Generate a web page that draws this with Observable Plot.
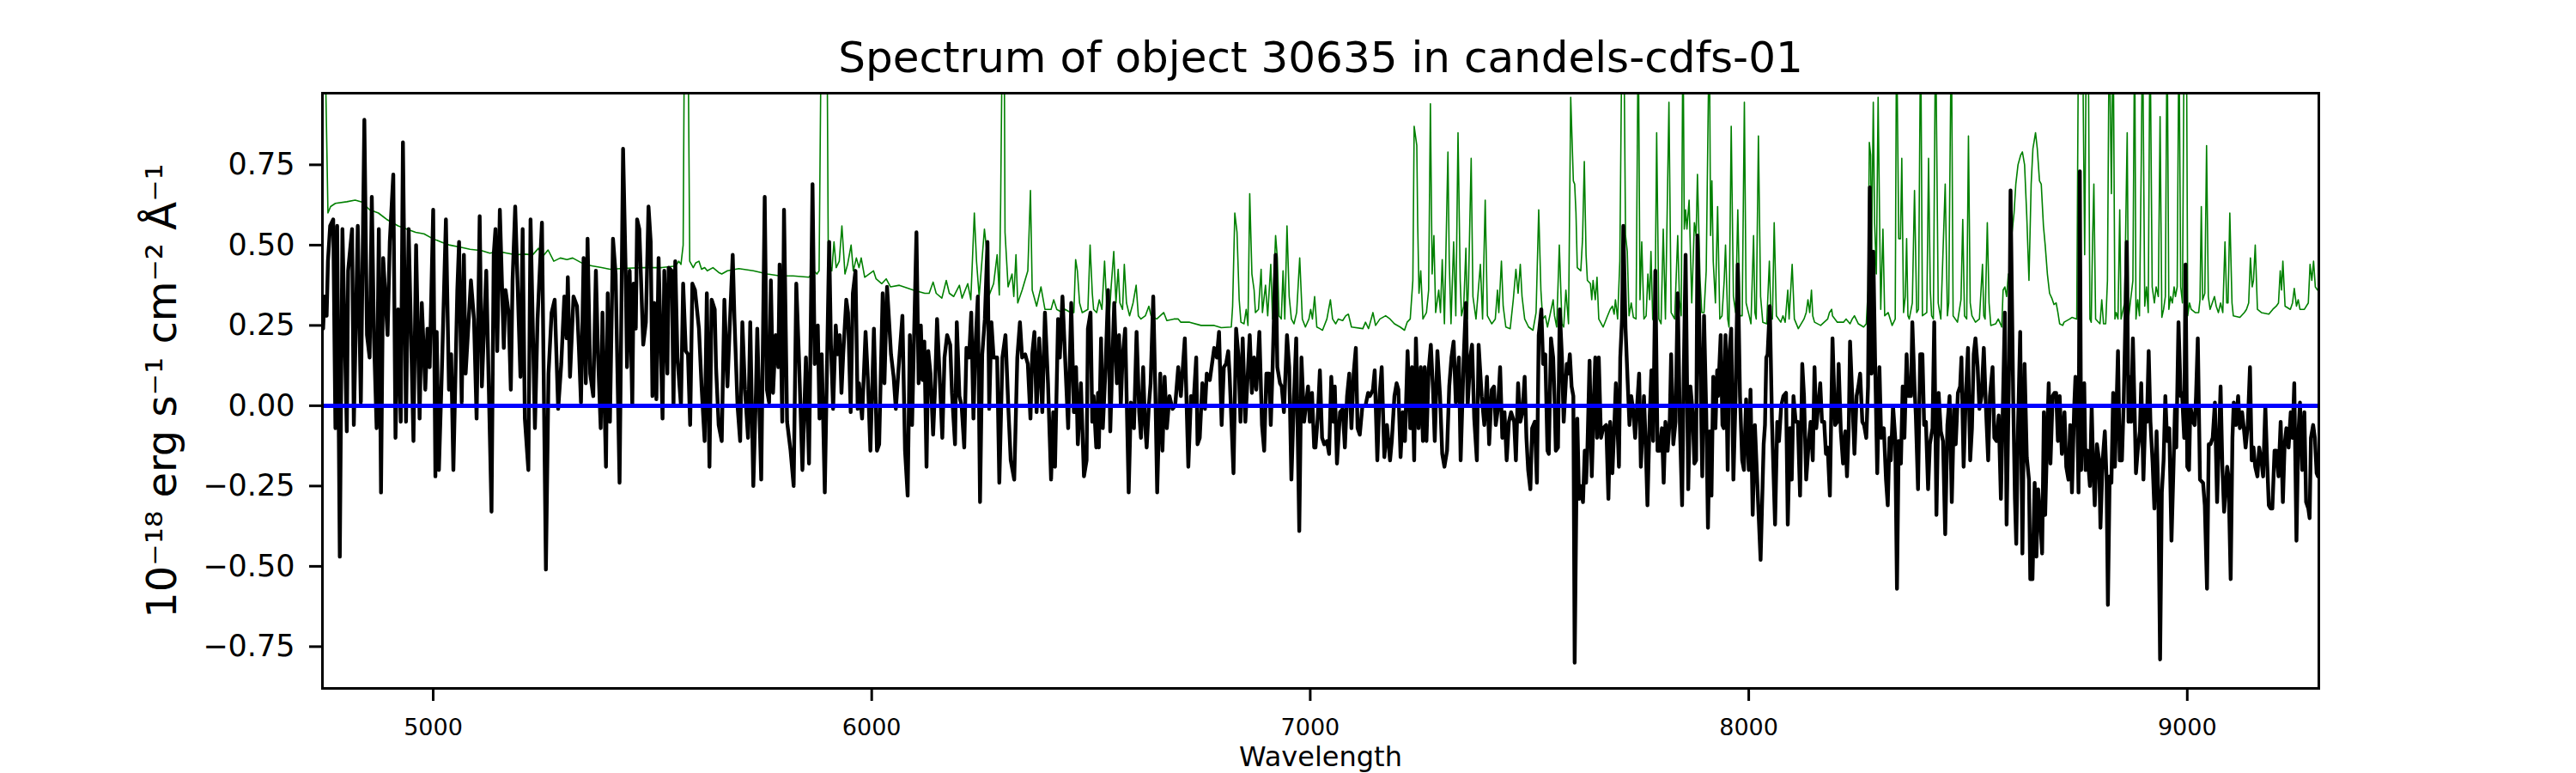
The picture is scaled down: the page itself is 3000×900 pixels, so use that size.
<!DOCTYPE html>
<html><head><meta charset="utf-8">
<script src="https://cdn.jsdelivr.net/npm/d3@7"></script>
<script src="https://cdn.jsdelivr.net/npm/@observablehq/plot@0.6"></script>
<style>html,body{margin:0;padding:0;background:#fff}#chart svg{display:block}</style>
</head><body><div id="chart"></div>
<script>
// Science flux [wavelength Å, flux 1e-18 erg/s/cm2/Å]
const sci4750 = [[4749,0.24],[4752,0.34],[4757,0.28],[4760,0.45],[4765,0.56],[4772,0.58],[4777,-0.07],[4781,0.56],[4787,-0.47],[4793,0.55],[4803,-0.08],[4806,0.42],[4815,0.55],[4819,-0.06],[4828,0.56],[4835,0.01],[4843,0.89],[4849,0.22],[4855,0.15],[4860,0.65],[4865,0.21],[4871,-0.07],[4876,0.55],[4881,-0.27],[4886,0.46],[4896,0.22],[4901,0.51],[4909,0.72],[4914,-0.10],[4920,0.30],[4926,-0.05],[4931,0.82],[4938,-0.05],[4944,0.55],[4955,-0.11],[4961,0.50],[4969,-0.04],[4974,0.32],[4982,0.05],[4987,0.24],[4992,0.12],[5000,0.61],[5005,-0.22],[5008,0.23],[5013,-0.20],[5020,0.12],[5029,0.58],[5036,0.05],[5041,0.16],[5046,-0.20],[5055,0.36],[5059,0.51],[5065,0.01],[5070,0.47],[5074,0.10],[5086,0.39],[5093,0.27],[5099,-0.04],[5106,0.59],[5111,0.06],[5121,0.42],[5133,-0.33],[5138,0.47],[5142,0.55],[5146,0.17],[5152,0.61],[5161,0.18],[5165,0.36],[5172,0.29],[5177,0.05],[5181,0.39],[5187,0.62],[5199,0.09],[5204,0.55],[5209,-0.04],[5217,-0.20],[5222,0.58],[5232,-0.07],[5238,0.27],[5248,0.57],[5257,-0.51],[5263,0.10],[5270,0.29],[5277,0.33],[5285,-0.01],[5292,0.13],[5299,0.34],[5304,0.21],[5307,0.40],[5312,0.09],[5320,0.34]];
const sci5325 = [[5328,0.31],[5332,0.19],[5337,0.01],[5343,0.46],[5348,0.07],[5352,0.52],[5358,0.10],[5365,0.03],[5371,0.42],[5376,0.15],[5382,-0.07],[5386,0.29],[5394,-0.19],[5398,0.35],[5403,-0.05],[5410,0.52],[5416,0.41],[5425,-0.24],[5433,0.80],[5439,0.41],[5442,0.12],[5448,0.42],[5454,0.00],[5457,0.38],[5462,0.24],[5465,0.58],[5470,0.55],[5479,0.19],[5485,0.26],[5491,0.62],[5496,0.51],[5500,0.03],[5504,0.32],[5509,0.02],[5514,0.46],[5523,-0.04],[5527,0.42],[5534,0.10],[5537,0.43],[5544,0.42],[5548,0.00],[5552,0.45],[5557,0.15],[5565,0.00],[5570,0.38],[5576,0.17],[5581,0.16],[5586,-0.06],[5591,0.38],[5597,0.36],[5606,0.24],[5612,0.06],[5619,-0.11],[5624,0.35],[5630,-0.19],[5635,0.33],[5642,0.30],[5645,0.12],[5651,-0.06],[5658,-0.11],[5664,0.33],[5671,0.06],[5676,0.24],[5683,0.47],[5687,0.27],[5694,0.00],[5700,-0.11],[5705,0.26],[5711,0.05],[5718,-0.10],[5723,0.26],[5730,-0.25],[5736,0.04],[5739,0.24],[5748,-0.23],[5756,0.65],[5761,0.05],[5766,0.01],[5770,0.39],[5775,0.04],[5781,0.22],[5787,0.12],[5790,0.44],[5796,-0.05],[5800,0.61],[5807,-0.05],[5815,-0.14],[5822,-0.25],[5828,0.38],[5834,0.15],[5842,-0.20],[5850,0.15],[5857,-0.18],[5865,0.69],[5870,0.13]];
const sci5875 = [[5877,0.25],[5881,-0.04],[5886,0.16],[5893,-0.27],[5903,0.51],[5907,0.19],[5912,-0.01],[5918,0.25],[5922,0.16],[5927,0.22],[5931,0.04],[5935,0.16],[5942,0.33],[5946,0.29],[5952,-0.02],[5957,0.35],[5963,0.42],[5968,-0.01],[5971,0.07],[5978,-0.04],[5986,0.23],[5991,0.09],[5997,-0.14],[6005,0.24],[6012,-0.14],[6017,-0.12],[6025,0.35],[6029,0.07],[6035,0.37],[6044,0.16],[6050,0.09],[6055,-0.01],[6063,0.15],[6070,0.28],[6076,-0.14],[6082,-0.28],[6087,0.22],[6092,-0.06],[6102,0.54],[6107,0.07],[6112,0.25],[6116,0.08],[6120,0.20],[6125,-0.19],[6129,0.17],[6134,0.10],[6140,-0.09],[6144,0.04],[6149,0.27],[6154,0.12],[6161,-0.10],[6166,0.15],[6172,0.22],[6179,0.19],[6183,0.04],[6190,-0.12],[6194,0.26],[6200,0.03],[6205,0.00],[6211,-0.13],[6216,0.18],[6222,0.15],[6227,0.29],[6232,-0.04],[6236,0.17],[6242,0.34],[6247,-0.30],[6252,0.16],[6258,0.27],[6264,0.51],[6268,-0.01],[6273,0.26],[6278,0.15],[6286,0.15],[6291,-0.24],[6298,0.15],[6305,0.22],[6312,-0.02],[6317,-0.17],[6325,-0.23],[6332,0.15],[6338,0.26],[6343,0.15],[6350,0.16],[6356,0.13],[6362,-0.04],[6366,0.16],[6371,0.23],[6376,-0.02],[6382,0.21],[6389,-0.02],[6395,0.29],[6402,0.07],[6409,-0.23],[6414,-0.02],[6418,-0.19],[6425,0.27],[6429,0.15],[6435,0.34],[6441,0.15]];
const sci6445 = [[6448,-0.07],[6455,0.32],[6461,-0.02],[6466,0.12],[6470,-0.12],[6477,0.07],[6484,-0.22],[6490,-0.17],[6493,0.24],[6499,0.29],[6503,-0.05],[6506,0.03],[6512,-0.13],[6516,0.04],[6518,-0.13],[6523,0.21],[6527,-0.07],[6533,0.11],[6539,0.36],[6544,-0.08],[6549,0.15],[6553,0.32],[6559,0.07],[6564,0.22],[6568,0.00],[6572,0.15],[6578,0.24],[6586,-0.27],[6591,0.01],[6598,-0.07],[6604,0.23],[6610,-0.02],[6614,-0.10],[6619,0.12],[6623,-0.05],[6627,-0.13],[6632,0.00],[6636,0.07],[6642,0.34],[6647,0.03],[6651,-0.27],[6658,0.10],[6663,-0.14],[6668,0.09],[6673,-0.07],[6679,0.03],[6686,-0.01],[6692,0.00],[6699,0.12],[6705,0.03],[6714,0.21],[6722,-0.19],[6728,0.03],[6734,0.01],[6740,0.15],[6743,-0.12],[6748,-0.10],[6754,0.07],[6760,-0.01],[6764,0.10],[6771,0.08],[6781,0.18],[6787,0.15],[6792,0.23],[6798,-0.06],[6803,0.12],[6808,0.13],[6813,0.17],[6816,0.10],[6825,-0.21],[6831,0.24],[6836,0.16],[6841,-0.05],[6846,0.21],[6852,-0.05],[6858,0.11],[6862,0.22],[6867,0.04],[6872,0.15],[6877,0.05],[6884,0.23],[6890,-0.06],[6895,-0.14],[6900,0.10],[6906,0.10],[6910,-0.06],[6914,0.11],[6921,0.47],[6925,0.12],[6931,0.07],[6935,0.06],[6940,-0.02],[6947,0.22],[6952,0.12],[6957,-0.23],[6963,0.03],[6968,0.21],[6975,-0.39],[6980,0.15],[6986,-0.05],[6995,0.06],[6999,-0.05],[7004,0.04],[7009,-0.13]];
const sci7010 = [[7012,-0.13],[7017,-0.04],[7022,0.11],[7027,-0.10],[7032,-0.12],[7038,-0.11],[7043,-0.15],[7048,0.09],[7053,-0.05],[7056,0.06],[7061,-0.18],[7068,-0.02],[7074,-0.01],[7079,-0.13],[7084,0.03],[7089,0.10],[7094,-0.07],[7099,0.10],[7104,0.18],[7108,-0.07],[7113,-0.09],[7119,0.00],[7126,0.00],[7132,0.04],[7136,0.03],[7143,0.05],[7147,0.11],[7153,-0.17],[7158,0.03],[7163,0.12],[7169,-0.16],[7175,-0.06],[7182,-0.17],[7186,-0.11],[7192,0.03],[7197,0.07],[7201,0.05],[7206,-0.16],[7211,-0.02],[7216,-0.11],[7222,0.17],[7228,-0.07],[7232,0.12],[7237,-0.17],[7241,0.21],[7247,-0.07],[7252,0.12],[7257,-0.11],[7261,0.12],[7265,-0.11],[7270,0.11],[7275,0.19],[7280,0.05],[7284,-0.11],[7290,0.17],[7296,0.03],[7301,-0.15],[7306,-0.19],[7312,-0.14],[7317,0.06],[7322,0.15],[7327,0.20],[7332,0.01],[7339,0.15],[7343,-0.17],[7350,0.15],[7355,0.32],[7359,0.00],[7365,0.15],[7369,0.19],[7374,-0.04],[7380,-0.17],[7384,0.19],[7391,0.03],[7397,-0.06],[7403,0.09],[7408,-0.12],[7414,0.05],[7419,0.06],[7423,-0.06],[7428,-0.01],[7433,0.12],[7438,-0.10],[7443,-0.02],[7448,-0.17],[7453,-0.05],[7458,-0.02],[7465,-0.05],[7469,-0.17],[7474,0.07],[7479,-0.05],[7484,-0.02],[7489,0.09],[7493,-0.10],[7497,-0.20],[7502,-0.26],[7506,-0.07],[7512,-0.05],[7517,-0.24],[7521,0.22],[7527,0.30],[7531,0.13],[7536,0.16],[7541,-0.14],[7544,-0.15],[7549,0.21],[7554,0.15],[7557,0.03],[7560,-0.14],[7565,-0.13],[7569,0.30],[7574,0.15],[7578,-0.05]];
const sci7580 = [[7585,0.13],[7588,0.10],[7592,0.16],[7596,0.06],[7600,0.03],[7603,-0.80],[7607,-0.27],[7609,-0.04],[7613,-0.29],[7617,-0.25],[7622,-0.30],[7626,-0.14],[7629,-0.24],[7632,-0.14],[7637,0.14],[7642,-0.22],[7647,0.03],[7650,0.15],[7654,-0.10],[7658,0.15],[7663,-0.10],[7668,-0.07],[7675,-0.06],[7680,-0.29],[7684,-0.05],[7689,-0.21],[7694,-0.04],[7697,0.07],[7704,-0.19],[7707,0.15],[7711,0.27],[7714,0.56],[7719,0.24],[7724,0.07],[7728,-0.06],[7732,0.03],[7737,-0.02],[7741,-0.10],[7745,-0.01],[7750,0.10],[7754,-0.19],[7761,0.03],[7765,-0.12],[7769,-0.31],[7774,-0.04],[7778,0.11],[7782,-0.11],[7787,0.42],[7792,-0.14],[7797,-0.14],[7802,-0.07],[7806,-0.24],[7810,-0.05],[7815,-0.14],[7820,-0.04],[7823,0.16],[7828,-0.12],[7833,-0.05],[7838,0.35],[7843,-0.06],[7848,-0.31],[7852,0.12],[7856,0.47],[7862,-0.26],[7867,0.06],[7872,-0.02],[7876,-0.18],[7880,-0.17],[7883,0.53],[7890,0.09],[7894,-0.22],[7898,0.28],[7903,-0.02],[7907,-0.38],[7911,-0.08],[7915,-0.28],[7919,0.09],[7924,-0.07],[7928,0.11],[7930,0.03],[7936,0.22],[7940,-0.06],[7943,-0.07],[7947,0.22],[7952,-0.20],[7955,0.15],[7960,0.24],[7965,-0.23],[7970,0.03],[7975,0.44],[7980,0.03],[7985,-0.17],[7989,-0.20],[7994,0.02],[8000,-0.20],[8004,0.05],[8009,-0.34],[8014,-0.06],[8021,-0.29],[8027,-0.48],[8034,-0.12],[8037,-0.06],[8040,0.15],[8043,0.16],[8048,0.31],[8053,-0.05],[8060,-0.37],[8065,-0.05],[8069,-0.11],[8074,0.00],[8079,0.03],[8085,0.04],[8089,-0.37],[8094,-0.07],[8098,-0.23],[8102,0.03],[8107,-0.05],[8112,-0.05],[8117,-0.28],[8122,0.13],[8126,0.03],[8131,-0.23],[8137,-0.11],[8141,-0.05],[8146,-0.17]];
const sci8150 = [[8150,0.12],[8154,-0.07],[8163,0.07],[8167,-0.05],[8172,-0.05],[8176,-0.15],[8180,-0.13],[8185,-0.28],[8191,0.21],[8197,-0.06],[8202,-0.05],[8205,0.13],[8210,-0.08],[8215,-0.18],[8220,-0.08],[8224,-0.22],[8228,-0.07],[8231,0.20],[8236,0.03],[8241,-0.15],[8246,0.03],[8250,0.06],[8254,0.10],[8259,-0.05],[8263,-0.06],[8268,-0.10],[8272,0.06],[8276,0.68],[8280,0.10],[8284,0.48],[8288,0.15],[8293,-0.21],[8298,0.12],[8302,-0.10],[8308,-0.07],[8313,-0.23],[8317,-0.31],[8321,-0.10],[8324,-0.17],[8329,0.00],[8334,-0.10],[8338,-0.57],[8342,-0.11],[8347,-0.18],[8351,0.06],[8355,-0.10],[8360,0.16],[8364,0.03],[8370,0.03],[8373,0.26],[8378,0.06],[8381,-0.03],[8386,-0.26],[8391,0.16],[8396,0.16],[8400,-0.06],[8404,-0.05],[8409,-0.26],[8413,-0.12],[8419,-0.07],[8423,0.26],[8428,-0.34],[8433,0.04],[8438,-0.08],[8443,-0.11],[8448,-0.40],[8453,-0.06],[8458,0.03],[8463,-0.30],[8468,-0.01],[8472,-0.12],[8477,0.04],[8482,0.06],[8485,0.15],[8490,-0.19],[8495,0.03],[8500,0.18],[8505,-0.17],[8509,-0.07],[8513,0.16],[8517,0.21],[8522,0.12],[8526,-0.01],[8531,0.03],[8536,0.18],[8541,-0.01],[8546,-0.17],[8550,0.03],[8556,0.12],[8560,-0.10],[8565,-0.11],[8570,-0.03],[8575,-0.29],[8580,0.03],[8584,0.29],[8588,-0.37],[8594,0.15],[8597,0.67],[8603,0.03],[8607,-0.29],[8610,-0.43],[8614,-0.07],[8619,0.23],[8624,-0.46],[8629,0.13],[8634,-0.16],[8639,-0.23],[8642,-0.54],[8647,-0.54],[8652,-0.24],[8656,-0.47],[8660,-0.26],[8664,-0.34],[8669,-0.46],[8673,-0.02],[8676,-0.34],[8681,-0.07],[8684,0.07],[8688,-0.18],[8693,0.03],[8697,0.04],[8701,0.04],[8705,-0.11],[8709,0.03],[8714,-0.15]];
const sci8715 = [[8720,-0.02],[8724,-0.19],[8729,-0.23],[8733,-0.06],[8737,-0.27],[8742,-0.01],[8745,0.09],[8748,0.07],[8752,-0.27],[8755,0.73],[8758,-0.20],[8761,-0.05],[8765,0.07],[8768,-0.20],[8772,-0.14],[8778,-0.25],[8782,0.00],[8785,-0.17],[8789,-0.31],[8794,-0.12],[8799,-0.17],[8802,-0.38],[8807,-0.17],[8812,-0.08],[8816,-0.23],[8819,-0.62],[8823,-0.22],[8827,-0.24],[8831,0.04],[8835,-0.19],[8842,0.17],[8846,-0.17],[8851,-0.17],[8855,0.01],[8859,0.27],[8862,0.51],[8866,-0.05],[8869,0.09],[8872,-0.05],[8876,0.21],[8880,-0.02],[8883,-0.21],[8887,-0.14],[8892,-0.08],[8895,0.07],[8900,-0.23],[8905,0.00],[8908,-0.05],[8912,0.17],[8916,-0.05],[8921,-0.18],[8925,-0.32],[8930,-0.08],[8934,-0.28],[8938,-0.79],[8942,-0.27],[8946,-0.17],[8950,0.03],[8954,-0.11],[8959,-0.07],[8964,-0.42],[8968,-0.22],[8972,-0.01],[8975,-0.13],[8980,0.26],[8985,0.03],[8988,0.04],[8993,-0.10],[8996,0.44],[9000,-0.19],[9004,-0.20],[9007,0.00],[9013,-0.05],[9017,-0.06],[9020,0.03],[9024,0.21],[9029,-0.23],[9036,-0.24],[9040,-0.31],[9045,-0.57],[9049,-0.12],[9053,-0.12],[9058,-0.10],[9063,0.01],[9068,-0.30],[9071,-0.16],[9076,0.06],[9080,-0.19],[9084,-0.33],[9091,-0.19],[9094,-0.22],[9099,-0.54],[9103,-0.10],[9106,0.01],[9111,-0.06],[9116,0.03],[9120,-0.07],[9125,-0.02],[9129,-0.07],[9133,-0.13],[9138,-0.06],[9143,0.12],[9147,-0.17],[9151,-0.13],[9155,-0.19],[9160,-0.22],[9164,-0.13],[9169,-0.17],[9173,-0.22],[9178,0.00],[9182,-0.17],[9186,-0.31],[9190,-0.32],[9194,-0.32],[9199,-0.14],[9203,-0.14],[9208,-0.22],[9213,-0.05],[9218,-0.30],[9222,-0.12],[9226,-0.07],[9231,-0.13],[9236,-0.02],[9240,-0.10],[9244,0.07],[9249,-0.42],[9253,-0.10],[9257,0.01],[9262,-0.20],[9267,-0.02],[9271,-0.30],[9276,-0.32],[9279,-0.35],[9282,-0.10],[9287,-0.06],[9291,-0.10],[9295,-0.21],[9298,-0.22],[9302,-0.20]];

// Noise / sky spectrum (green)
const sky4750 = [[4748,1.2],[4755,1.0],[4760,0.60],[4766,0.62],[4777,0.63],[4803,0.635],[4822,0.64],[4836,0.635],[4855,0.61],[4875,0.60],[4894,0.58],[4920,0.56],[4940,0.55],[4960,0.54],[4979,0.535],[4999,0.52],[5018,0.51],[5038,0.50],[5064,0.493],[5084,0.487],[5110,0.483],[5129,0.475],[5149,0.48],[5168,0.475],[5188,0.47],[5208,0.472],[5227,0.47],[5240,0.49],[5250,0.465],[5262,0.485],[5275,0.45],[5290,0.46],[5305,0.455]];
const sky5310 = [[5318,0.46],[5345,0.44],[5364,0.435],[5384,0.43],[5403,0.425],[5442,0.428],[5482,0.43],[5521,0.43],[5553,0.435],[5560,0.45],[5565,0.44],[5570,0.50],[5573,1.2],[5581,1.2],[5585,0.45],[5593,0.43],[5599,0.445],[5606,0.45],[5612,0.425],[5619,0.43],[5625,0.42],[5638,0.43],[5651,0.415],[5658,0.41],[5671,0.42],[5697,0.427],[5730,0.42],[5762,0.41],[5788,0.405],[5821,0.404],[5857,0.40],[5868,0.42],[5875,0.41],[5880,0.42]];
const sky5885 = [[5885,1.2],[5898,1.2],[5901,0.45],[5909,0.42],[5914,0.51],[5919,0.43],[5926,0.45],[5932,0.56],[5939,0.41],[5945,0.44],[5953,0.50],[5958,0.42],[5965,0.46],[5971,0.43],[5976,0.46],[5984,0.40],[6004,0.42],[6010,0.395],[6023,0.38],[6033,0.395],[6043,0.37],[6063,0.375],[6095,0.36],[6121,0.35],[6131,0.35],[6140,0.385],[6147,0.35],[6160,0.335],[6170,0.39],[6177,0.35],[6187,0.34],[6200,0.375],[6206,0.335],[6219,0.38],[6226,0.33],[6234,0.60],[6239,0.45],[6245,0.34],[6257,0.55],[6262,0.485],[6268,0.345],[6278,0.38],[6286,0.47],[6291,0.345],[6294,0.63],[6298,1.2],[6302,1.2],[6304,0.54],[6311,0.37],[6320,0.41],[6324,0.34],[6329,0.47],[6333,0.32],[6343,0.36],[6356,0.42],[6362,0.67],[6366,0.36],[6376,0.31],[6386,0.37],[6395,0.30],[6409,0.30],[6415,0.33],[6422,0.30],[6435,0.29]];
const sky6440 = [[6441,0.30],[6454,0.29],[6461,0.29],[6465,0.455],[6469,0.42],[6474,0.32],[6480,0.29],[6493,0.30],[6498,0.50],[6503,0.35],[6506,0.30],[6513,0.29],[6519,0.33],[6525,0.30],[6531,0.45],[6536,0.31],[6542,0.28],[6546,0.37],[6552,0.48],[6557,0.32],[6562,0.425],[6566,0.32],[6572,0.30],[6576,0.44],[6581,0.32],[6588,0.28],[6596,0.32],[6603,0.375],[6608,0.28],[6614,0.27],[6624,0.28],[6632,0.31],[6637,0.28],[6650,0.27],[6666,0.29],[6673,0.265],[6689,0.27],[6699,0.27],[6705,0.26],[6725,0.26],[6751,0.25],[6781,0.25],[6797,0.243],[6820,0.245],[6823,0.31],[6828,0.60],[6833,0.54],[6838,0.33],[6842,0.26],[6849,0.255],[6854,0.30],[6858,0.25],[6862,0.66],[6867,0.41],[6872,0.36],[6875,0.29],[6882,0.30],[6888,0.425],[6891,0.29],[6898,0.375],[6903,0.28],[6910,0.44],[6914,0.27],[6921,0.53],[6925,0.46],[6929,0.28],[6934,0.27],[6938,0.42],[6942,0.27],[6947,0.56],[6952,0.34],[6957,0.27],[6963,0.255],[6969,0.29],[6976,0.46],[6982,0.27],[6989,0.245],[6997,0.27],[7001,0.30],[7005,0.27],[7010,0.34],[7015,0.245],[7022,0.24]];
const sky7025 = [[7028,0.235],[7038,0.27],[7046,0.33],[7051,0.27],[7058,0.255],[7064,0.27],[7074,0.265],[7081,0.28],[7087,0.285],[7094,0.245],[7120,0.24],[7126,0.26],[7133,0.24],[7143,0.29],[7149,0.25],[7159,0.27],[7172,0.28],[7182,0.27],[7192,0.255],[7205,0.245],[7215,0.235],[7221,0.26],[7228,0.27],[7234,0.39],[7237,0.87],[7243,0.81],[7245,0.57],[7248,0.35],[7252,0.42],[7257,0.27],[7265,0.29],[7270,0.36],[7274,0.94],[7278,0.41],[7282,0.53],[7286,0.29],[7293,0.36],[7297,0.29],[7301,0.455],[7306,0.255],[7309,0.45],[7314,0.79],[7317,0.45],[7321,0.255],[7327,0.51],[7332,0.28],[7337,0.85],[7342,0.39],[7345,0.28],[7350,0.31],[7355,0.49],[7358,0.27],[7361,0.38],[7367,0.77],[7371,0.34],[7378,0.27],[7388,0.44],[7393,0.27],[7399,0.64],[7404,0.28],[7414,0.255],[7422,0.27],[7427,0.36],[7430,0.29],[7436,0.45],[7440,0.31],[7446,0.245],[7456,0.24],[7463,0.33],[7469,0.425],[7474,0.35],[7479,0.44],[7483,0.34],[7489,0.27],[7498,0.245],[7508,0.235],[7515,0.29],[7521,0.61],[7526,0.36],[7530,0.27],[7536,0.28],[7541,0.245],[7554,0.33],[7557,0.28],[7562,0.245],[7568,0.50],[7574,0.255],[7578,0.245],[7583,0.36],[7589,0.255],[7594,0.96]];
const sky7600 = [[7600,0.70],[7603,0.69],[7606,0.60],[7609,0.43],[7617,0.42],[7621,0.52],[7625,0.76],[7629,0.47],[7632,0.39],[7639,0.38],[7642,0.33],[7645,0.39],[7650,0.33],[7654,0.40],[7658,0.27],[7668,0.245],[7678,0.28],[7684,0.30],[7689,0.31],[7693,0.285],[7696,0.33],[7701,0.27],[7706,0.45],[7711,1.2],[7715,1.2],[7719,0.53],[7723,0.48],[7727,0.28],[7732,0.32],[7737,0.275],[7743,0.27],[7748,1.2],[7752,0.33],[7756,0.51],[7761,0.27],[7766,0.28],[7770,0.41],[7774,0.33],[7777,0.48],[7781,0.27],[7786,0.255],[7790,0.85],[7795,0.27],[7800,0.255],[7805,0.55],[7810,0.27],[7818,0.945],[7823,0.29],[7831,0.27],[7838,0.53],[7842,0.33],[7846,0.28],[7850,1.2],[7853,0.55],[7856,0.61],[7859,0.55],[7864,0.64],[7867,0.48],[7870,0.32],[7876,0.57],[7880,0.53],[7883,0.72],[7889,0.39],[7893,0.29],[7898,0.29],[7903,0.42],[7910,1.2],[7913,0.53],[7916,0.70],[7919,0.45],[7924,0.32],[7929,0.62],[7934,0.27],[7939,0.28],[7944,0.39],[7947,0.50],[7952,0.27],[7955,0.245],[7960,0.87],[7965,0.34],[7970,0.29],[7975,0.61],[7980,0.28],[7985,0.28],[7990,0.945],[7994,0.32],[8001,0.28],[8005,0.255],[8011,0.53],[8014,0.29],[8017,0.27],[8022,0.84],[8027,0.34],[8032,0.26],[8041,0.255],[8047,0.45],[8051,0.27],[8054,0.27],[8058,0.57],[8063,0.28],[8073,0.26],[8078,0.28],[8083,0.26],[8089,0.36],[8092,0.27],[8099,0.44],[8104,0.27],[8113,0.24],[8126,0.27],[8131,0.29],[8135,0.33],[8139,0.29],[8143,0.36],[8146,0.28]];
const sky8150 = [[8150,0.26],[8164,0.25],[8180,0.27],[8184,0.29],[8189,0.30],[8191,0.28],[8202,0.26],[8216,0.26],[8222,0.27],[8231,0.255],[8236,0.27],[8241,0.28],[8250,0.255],[8262,0.245],[8268,0.255],[8272,0.36],[8275,0.82],[8278,0.78],[8280,0.47],[8284,0.945],[8287,0.57],[8291,0.41],[8295,0.96],[8299,0.51],[8301,0.30],[8306,0.55],[8310,0.28],[8318,0.29],[8327,0.25],[8334,0.27],[8337,1.2],[8342,0.52],[8346,0.52],[8349,0.77],[8353,0.29],[8357,0.34],[8360,0.52],[8363,0.28],[8366,0.27],[8373,0.32],[8378,0.67],[8383,0.29],[8387,0.30],[8392,1.2],[8396,0.28],[8406,0.29],[8410,0.77],[8414,0.36],[8417,0.28],[8421,0.27],[8426,1.2],[8432,0.32],[8438,0.27],[8448,0.69],[8453,0.28],[8456,0.32],[8462,1.2],[8466,0.28],[8476,0.26],[8484,0.33],[8488,0.58],[8492,0.28],[8497,0.27],[8501,0.84],[8505,0.32],[8509,0.28],[8517,0.26],[8526,0.27],[8533,0.44],[8536,0.28],[8539,0.27],[8544,0.57],[8548,0.32],[8552,0.25],[8563,0.255],[8569,0.27],[8577,0.245],[8580,0.36],[8584,0.37],[8588,0.34],[8592,0.41],[8595,0.36],[8599,0.52],[8605,0.60],[8609,0.69],[8614,0.75],[8620,0.78],[8624,0.79],[8629,0.75],[8634,0.59],[8639,0.39],[8644,0.69],[8648,0.80],[8654,0.85],[8658,0.80],[8663,0.70],[8667,0.69],[8672,0.56],[8676,0.50],[8681,0.41],[8686,0.35],[8691,0.335],[8696,0.315],[8701,0.32],[8705,0.29],[8709,0.255],[8716,0.25]];
const sky8720 = [[8719,0.26],[8732,0.27],[8737,0.275],[8748,0.27],[8752,1.2],[8758,0.97],[8761,1.2],[8766,0.47],[8770,1.2],[8774,1.2],[8778,0.27],[8781,0.26],[8784,0.51],[8787,0.69],[8791,0.27],[8801,0.255],[8805,0.33],[8809,0.255],[8814,0.255],[8818,0.39],[8822,1.2],[8827,0.66],[8831,1.2],[8835,0.27],[8838,0.29],[8842,0.27],[8846,0.61],[8849,0.27],[8857,0.32],[8863,0.85],[8866,0.27],[8870,0.32],[8876,0.39],[8880,1.2],[8883,0.27],[8887,0.33],[8891,0.28],[8895,0.75],[8898,1.2],[8903,0.31],[8907,0.37],[8911,0.29],[8915,1.2],[8920,0.37],[8925,0.32],[8929,0.37],[8934,0.34],[8938,0.90],[8942,0.275],[8946,0.30],[8950,0.34],[8954,1.2],[8958,0.30],[8962,0.34],[8966,0.32],[8970,0.37],[8973,0.34],[8977,0.37],[8981,1.2],[8985,0.37],[8989,0.32],[8993,1.2],[8998,1.2],[9001,0.28],[9005,0.32],[9009,0.30],[9018,0.29],[9026,0.29],[9029,0.33],[9032,0.62],[9035,0.33],[9040,0.35],[9044,0.81],[9048,0.34],[9052,0.30],[9057,0.32],[9062,0.34],[9066,0.31],[9071,0.29],[9076,0.32],[9081,0.29],[9086,0.51],[9090,0.32],[9093,0.32],[9097,0.60],[9102,0.32],[9105,0.28],[9120,0.275],[9130,0.29],[9135,0.30],[9140,0.32],[9144,0.46],[9148,0.37],[9151,0.39],[9155,0.50],[9160,0.30],[9169,0.29],[9186,0.285],[9195,0.30],[9203,0.31],[9208,0.32],[9212,0.42],[9215,0.36],[9218,0.45],[9223,0.31],[9235,0.30],[9240,0.32],[9244,0.365],[9249,0.31],[9253,0.33],[9257,0.30],[9267,0.30],[9276,0.32],[9280,0.44],[9284,0.39],[9288,0.45],[9292,0.37],[9297,0.36],[9302,0.37]];

const zeroLevel = [0];
const xTicks = [5000, 6000, 7000, 8000, 9000];
const yTicks = [-0.75, -0.5, -0.25, 0, 0.25, 0.5, 0.75];
const xDomain = [4747.4, 9300];
const yDomain = [-0.88, 0.973];
const titleText = "Spectrum of object 30635 in candels-cdfs-01";
const xLabel = "Wavelength";
const yLabel = "10⁻¹⁸ erg s⁻¹ cm⁻² Å⁻¹";

const toRows = (arr) => arr.map(([w, f]) => ({w, f}));
const science = toRows([...sci4750, ...sci5325, ...sci5875, ...sci6445, ...sci7010, ...sci7580, ...sci8150, ...sci8715]);
const sky = toRows([...sky4750, ...sky5310, ...sky5885, ...sky6440, ...sky7025, ...sky7600, ...sky8150, ...sky8720]);

const chart = Plot.plot({
  width: 3000,
  height: 900,
  marginLeft: 375,
  marginRight: 300,
  marginTop: 108,
  marginBottom: 99,
  style: {fontFamily: "DejaVu Sans", background: "#fff", color: "#000", overflow: "visible"},
  x: {domain: xDomain},
  y: {domain: yDomain},
  marks: [
    Plot.line(sky, {x: "w", y: "f", stroke: "#008000", strokeWidth: 1.6, strokeLinejoin: "round", clip: true}),
    Plot.line(science, {x: "w", y: "f", stroke: "#000", strokeWidth: 4.4, strokeLinejoin: "round", clip: true}),
    Plot.ruleY(zeroLevel, {stroke: "#0000ff", strokeWidth: 5}),
    Plot.frame({stroke: "#000", strokeWidth: 3}),
    Plot.axisX({ticks: xTicks, tickFormat: "d", tickSize: 15, tickPadding: 20, fontSize: 27, strokeWidth: 3, label: null}),
    Plot.axisY({ticks: yTicks, tickFormat: ".2f", tickSize: 15, tickPadding: 17, fontSize: 35, strokeWidth: 3, label: null}),
    Plot.text([titleText], {frameAnchor: "top", dy: -25, lineAnchor: "bottom", textAnchor: "middle", fontSize: 50}),
    Plot.text([xLabel], {frameAnchor: "bottom", dy: 90, lineAnchor: "bottom", textAnchor: "middle", fontSize: 32}),
    Plot.text([yLabel], {frameAnchor: "left", dx: -171, rotate: -90, lineAnchor: "bottom", textAnchor: "middle", fontSize: 48})
  ]
});
document.getElementById("chart").append(chart);
</script>
</body></html>
